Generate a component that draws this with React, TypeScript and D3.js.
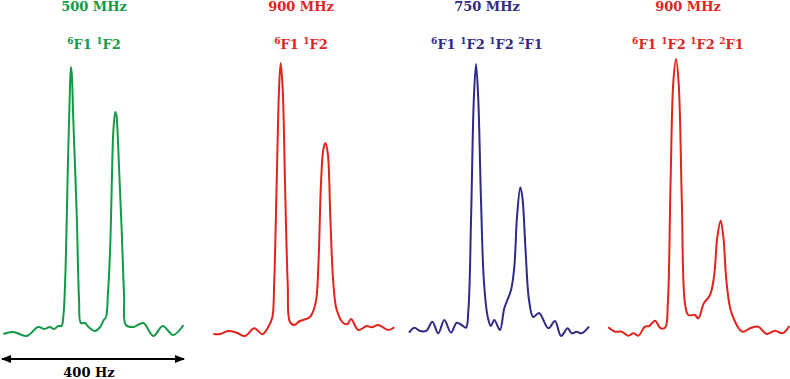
import React from "react";
import * as d3 from "d3";

// ---- data (x: Hz offset within 400 Hz window, y: intensity, arbitrary units) ----
const spectrum500: [number, number][] = [
  [0.7, 6], [23, 8], [53, 4], [78, 13], [93, 11], [104, 13], [113, 11], [123, 14], [130, 14],
  [134, 23], [138, 57], [145, 190], [149, 255], [151, 273], [153, 265], [156, 223], [164, 123],
  [169, 40], [173, 17], [182, 17], [190, 13], [204, 9], [216, 13], [224, 20], [229, 23], [233, 45],
  [238, 90], [242, 160], [245, 207], [249.5, 228], [252, 225], [254, 213], [259, 160], [264, 107],
  [269, 45], [273, 15], [290, 13], [312, 17], [334, 4], [355, 14], [378, 5], [401, 15],
];
const spectrum900a: [number, number][] = [
  [0.7, 6], [15.5, 6], [34, 9], [52.6, 7.3], [71, 4], [92, 11.7], [109.6, 5.7], [124, 14], [132, 23],
  [136, 57], [141.5, 157], [146.7, 250], [150.4, 277], [155, 250], [160, 157], [166, 57], [171, 18],
  [180.7, 15], [193, 19], [215.5, 23], [228, 37], [234, 73], [240, 157], [245, 190], [249.6, 197],
  [255, 187], [260.7, 123], [267.4, 57], [275, 30], [289.6, 17], [299, 16], [306.7, 21], [323, 10],
  [341.5, 14], [352.6, 12.7], [367.4, 15], [389.6, 10], [403, 12.7],
];
const spectrum750: [number, number][] = [
  [0, 7.3], [11.8, 12.3], [24.4, 9], [39, 9.3], [51.8, 18.3], [65, 6.7], [78.5, 20], [93.3, 7.3],
  [106, 17.3], [117, 15], [126.7, 12.3], [132, 30], [138, 123], [144, 240], [149, 276], [154, 240],
  [160, 140], [166.7, 57], [175, 23], [182, 14], [189.6, 20], [202, 10], [211.8, 31.7], [226.7, 50],
  [234, 73], [240, 123], [247.4, 152.7], [251.9, 143], [259, 90], [266.7, 40], [276, 23], [289, 27],
  [309.6, 11.7], [324.4, 19], [337.8, 4], [352.6, 11.7], [361.5, 6.7], [372.6, 8.3], [383.7, 6.7],
  [400, 13.3],
];
const spectrum900b: [number, number][] = [
  [0.7, 12.7], [15.5, 8.3], [30.4, 8.3], [45, 4.3], [56.3, 6.7], [67.4, 4.3], [82, 13.3], [91.8, 14],
  [104.4, 19.3], [117, 11.7], [127.4, 12.7], [133, 36.7], [139, 157], [145, 257], [151, 281],
  [157, 257], [164, 140], [171, 36.7], [178.5, 25], [193, 25], [200.7, 21.7], [213, 36.7],
  [226.7, 45], [235.6, 63.3], [243, 103.3], [250.4, 119.3], [256.3, 103.3], [263.7, 56.7],
  [274.8, 26.7], [299, 8.3], [315.6, 11.7], [334, 13.3], [352.6, 6], [371, 9.3], [388, 6.7],
  [402.8, 14],
];

const fieldTitles = ["500 MHz", "900 MHz", "750 MHz", "900 MHz"];
const peakLabels: [string, string][][] = [
  [["6", "F1"], ["1", "F2"]],
  [["6", "F1"], ["1", "F2"]],
  [["6", "F1"], ["1", "F2"], ["1", "F2"], ["2", "F1"]],
  [["6", "F1"], ["1", "F2"], ["1", "F2"], ["2", "F1"]],
];
const scaleLabel = "400 Hz";
const scaleSpanHz = 400;

// ---- layout / style ----
const W = 790;
const H = 379;
const colors = ["#129a45", "#e2231c", "#2f2a85", "#e2231c"];
const panelX0 = [3, 213, 409, 608];
const panelW = 180;
const textCenters = [94, 301, 487, 688];
const spectra = [spectrum500, spectrum900a, spectrum750, spectrum900b];
const font = "'DejaVu Serif', serif";

const yScale = d3.scaleLinear().domain([0, 280]).range([340, 60]);

export default function App() {
  return (
    <svg
      width={W}
      height={H}
      style={{ position: "absolute", left: 0, top: 0, background: "#fff" }}
    >
      <defs>
        <marker id="ah" viewBox="0 0 10 8" refX="9" refY="4" markerWidth="10" markerHeight="8" markerUnits="userSpaceOnUse" orient="auto-start-reverse">
          <path d="M0,0 L10,4 L0,8 Z" fill="#000" />
        </marker>
      </defs>
      {spectra.map((data, i) => {
        const x = d3.scaleLinear().domain([0, 400]).range([panelX0[i], panelX0[i] + panelW]);
        const line = d3
          .line<[number, number]>()
          .x((d) => x(d[0]))
          .y((d) => yScale(d[1]))
          .curve(d3.curveCatmullRom.alpha(0.5));
        return (
          <g key={i}>
            <path d={line(data) || ""} fill="none" stroke={colors[i]} strokeWidth={2} strokeLinejoin="round" />
            <text x={textCenters[i]} y={11} textAnchor="middle" fontFamily={font} fontWeight="bold" fontSize={13} fill={colors[i]}>
              {fieldTitles[i]}
            </text>
            <text x={textCenters[i]} y={49} textAnchor="middle" fontFamily={font} fontWeight="bold" fontSize={13} fill={colors[i]}>
              {peakLabels[i].map((p, j) => (
                <React.Fragment key={j}>
                  <tspan fontSize={9} dy={-5}>{p[0]}</tspan>
                  <tspan dy={5}>{p[1] + (j < peakLabels[i].length - 1 ? " " : "")}</tspan>
                </React.Fragment>
              ))}
            </text>
          </g>
        );
      })}
      {(() => {
        const x = d3.scaleLinear().domain([0, 400]).range([panelX0[0], panelX0[0] + panelW]);
        return (
          <g>
            <line x1={x(0) - 1} x2={x(scaleSpanHz) + 1} y1={359} y2={359} stroke="#000" strokeWidth={2} markerStart="url(#ah)" markerEnd="url(#ah)" />
            <text x={89} y={377} textAnchor="middle" fontFamily={font} fontWeight="bold" fontSize={13} fill="#000">
              {scaleLabel}
            </text>
          </g>
        );
      })()}
    </svg>
  );
}
